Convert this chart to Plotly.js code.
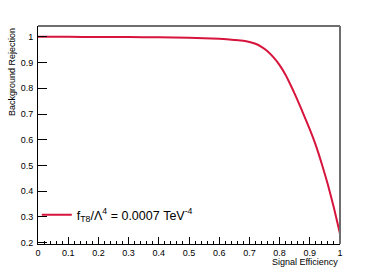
<!DOCTYPE html>
<html>
<head>
<meta charset="utf-8">
<script src="https://cdn.plot.ly/plotly-3.0.1.min.js"></script>
<style>html,body{margin:0;padding:0;background:#fff;}#chart{width:378px;height:273px;}</style>
</head>
<body>
<div id="chart"></div>
<script>
// Signal efficiency (x) and background rejection (y)
const signalEfficiency = [0, 0.1, 0.2, 0.3, 0.4, 0.5, 0.55, 0.6, 0.65, 0.68, 0.7, 0.72, 0.74, 0.76, 0.78, 0.8, 0.82, 0.84, 0.86, 0.88, 0.9, 0.92, 0.94, 0.96, 0.98, 1.0];
const backgroundRejection = [1.0, 0.9998, 0.9995, 0.999, 0.998, 0.996, 0.994, 0.992, 0.988, 0.985, 0.980, 0.973, 0.961, 0.944, 0.920, 0.890, 0.852, 0.804, 0.752, 0.697, 0.640, 0.578, 0.505, 0.425, 0.335, 0.235];
const seriesName = 'f<sub>T8</sub>/Λ<sup>4</sup> = 0.0007 TeV<sup>-4</sup>';
const xTitle = 'Signal Efficiency';
const yTitle = 'Background Rejection';

const font = 'Liberation Sans, Arial, Helvetica, sans-serif';

const trace = {
  x: signalEfficiency,
  y: backgroundRejection,
  type: 'scatter',
  mode: 'lines',
  line: {color: '#d7143c', width: 2, shape: 'spline', smoothing: 0.5},
  name: seriesName,
  showlegend: true
};

const layout = {
  width: 378, height: 273,
  margin: {l: 38, r: 38, t: 26, b: 29, pad: 0},
  paper_bgcolor: '#fff', plot_bgcolor: '#fff',
  font: {family: font, size: 9, color: '#000'},
  showlegend: true,
  legend: {x: -0.004, y: 0.133, xanchor: 'left', yanchor: 'middle', bgcolor: 'rgba(0,0,0,0)',
           font: {family: font, size: 12.5, color: '#000'}, borderwidth: 0},
  xaxis: {
    range: [0, 1], tick0: 0, dtick: 0.1, ticks: 'inside', ticklen: 7, tickwidth: 1, tickcolor: '#000',
    minor: {dtick: 0.02, ticks: 'inside', ticklen: 3.5, tickcolor: '#000', tickwidth: 1, showgrid: false},
    showgrid: false, zeroline: false, showline: true, linecolor: '#000', linewidth: 1,
    tickfont: {family: font, size: 9, color: '#000'}, fixedrange: true
  },
  yaxis: {
    range: [0.195, 1.042], tick0: 0.2, dtick: 0.1, ticks: 'inside', ticklen: 9, tickwidth: 1, tickcolor: '#000',
    showgrid: false, zeroline: false, showline: true, linecolor: '#000', linewidth: 1,
    tickfont: {family: font, size: 9, color: '#000'}, ticklabelstandoff: 2, fixedrange: true
  },
  shapes: [
    {type: 'line', xref: 'paper', yref: 'paper', x0: 0, x1: 1, y0: 1, y1: 1, line: {color: '#6e6e6e', width: 2}},
    {type: 'line', xref: 'paper', yref: 'paper', x0: 1, x1: 1, y0: 0, y1: 1, line: {color: '#6e6e6e', width: 2}}
  ],
  annotations: [
    {text: xTitle, xref: 'paper', yref: 'paper', x: 1, y: 0, xanchor: 'right', yanchor: 'top', yshift: -11,
     showarrow: false, font: {family: font, size: 9, color: '#000'}},
    {text: yTitle, xref: 'paper', yref: 'paper', x: 0, y: 1, xanchor: 'center', yanchor: 'top', xshift: -26,
     textangle: -90, showarrow: false, font: {family: font, size: 9, color: '#000'}}
  ]
};

Plotly.newPlot('chart', [trace], layout, {staticPlot: true, displayModeBar: false});
</script>
</body>
</html>
